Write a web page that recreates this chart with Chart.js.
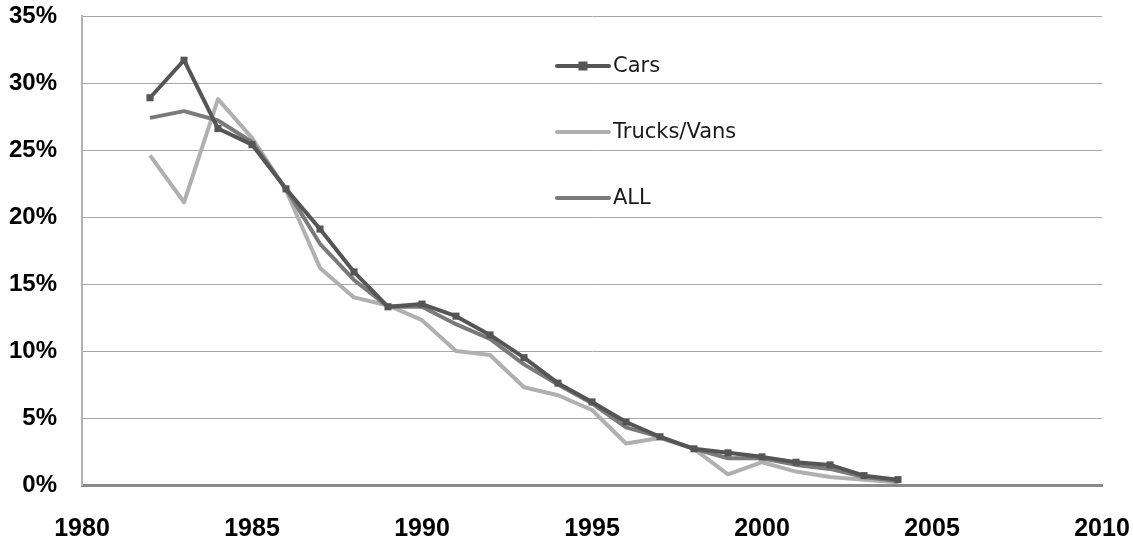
<!DOCTYPE html>
<html>
<head>
<meta charset="utf-8">
<script src="https://cdn.jsdelivr.net/npm/chart.js@4"></script>
<style>
  html, body { margin: 0; padding: 0; background: #fff; }
  #wrap { width: 1133px; height: 543px; position: relative; }
</style>
</head>
<body>
<div id="wrap"><canvas id="c" width="1133" height="543"></canvas></div>
<script>
const years = [1982,1983,1984,1985,1986,1987,1988,1989,1990,1991,1992,1993,1994,1995,1996,1997,1998,1999,2000,2001,2002,2003,2004];
const cars = [28.9,31.7,26.6,25.4,22.1,19.1,15.9,13.3,13.5,12.6,11.2,9.5,7.6,6.2,4.7,3.6,2.7,2.4,2.1,1.7,1.5,0.7,0.4];
const trucksVans = [24.6,21.1,28.8,25.9,22.0,16.2,14.0,13.4,12.3,10.0,9.7,7.3,6.7,5.6,3.1,3.5,2.7,0.8,1.7,1.0,0.6,0.4,0.2];
const allVehicles = [27.4,27.9,27.2,25.6,22.1,18.0,15.3,13.3,13.3,12.0,10.9,9.0,7.5,6.1,4.3,3.6,2.7,2.0,2.0,1.5,1.2,0.6,0.3];
const seriesNames = ['Cars','Trucks/Vans','ALL'];
const xTicks = [1980,1985,1990,1995,2000,2005,2010];
const yTicks = [0,5,10,15,20,25,30,35];

const pts = arr => years.map((y,i)=>({x:y, y:arr[i]}));

const legendPlugin = {
  id: 'sideLegend',
  afterDraw(chart) {
    const ctx = chart.ctx;
    const rows = [66, 132, 198];
    chart.data.datasets.forEach((ds, i) => {
      const y = rows[i];
      ctx.save();
      ctx.strokeStyle = ds.borderColor;
      ctx.lineWidth = 4;
      ctx.lineCap = 'round';
      ctx.beginPath();
      ctx.moveTo(557, y);
      ctx.lineTo(609, y);
      ctx.stroke();
      if (ds.pointRadius > 0) {
        ctx.fillStyle = ds.borderColor;
        ctx.fillRect(583 - 4.5, y - 4.5, 9, 9);
      }
      ctx.fillStyle = '#1a1a1a';
      ctx.font = '21px "DejaVu Sans"';
      ctx.textBaseline = 'middle';
      ctx.textAlign = 'left';
      ctx.fillText(ds.label, 613, y + 1);
      ctx.restore();
    });
  }
};

new Chart(document.getElementById('c'), {
  type: 'line',
  data: {
    datasets: [
      { label: seriesNames[0], data: pts(cars), borderColor: '#555555', backgroundColor: '#555555', borderWidth: 4, pointStyle: 'rect', pointRadius: 5, pointBorderWidth: 0, order: 1 },
      { label: seriesNames[1], data: pts(trucksVans), borderColor: '#b0b0b0', backgroundColor: '#b0b0b0', borderWidth: 4, pointRadius: 0, order: 3 },
      { label: seriesNames[2], data: pts(allVehicles), borderColor: '#7a7a7a', backgroundColor: '#7a7a7a', borderWidth: 4, pointRadius: 0, order: 2 }
    ]
  },
  options: {
    responsive: false,
    animation: false,
    devicePixelRatio: 1,
    layout: { padding: { top: 16, right: 31, left: 0, bottom: 0 } },
    plugins: { legend: { display: false }, tooltip: { enabled: false } },
    elements: { line: { tension: 0, borderJoinStyle: 'round' } },
    scales: {
      x: {
        type: 'linear',
        min: xTicks[0], max: xTicks[xTicks.length-1],
        afterBuildTicks: s => { s.ticks = xTicks.map(v => ({value: v})); },
        afterFit: s => { s.height = 58; s.paddingLeft = 0; s.paddingRight = 0; },
        grid: { display: false, drawTicks: false },
        border: { color: '#8a8a8a', width: 3 },
        ticks: { color: '#000', padding: 29, font: { family: '"Liberation Sans"', size: 25, weight: 'bold' }, callback: v => String(v), maxRotation: 0 }
      },
      y: {
        min: yTicks[0], max: yTicks[yTicks.length-1],
        afterBuildTicks: s => { s.ticks = yTicks.map(v => ({value: v})); },
        afterFit: s => { s.width = 82; s.paddingTop = 0; s.paddingBottom = 0; },
        grid: { color: '#a8a8a8', lineWidth: 1, drawTicks: false },
        border: { color: '#b4b4b4', width: 2 },
        ticks: { color: '#000', padding: 25, font: { family: '"Liberation Sans"', size: 24, weight: 'bold' }, callback: v => v + '%' }
      }
    }
  },
  plugins: [legendPlugin]
});
</script>
</body>
</html>
